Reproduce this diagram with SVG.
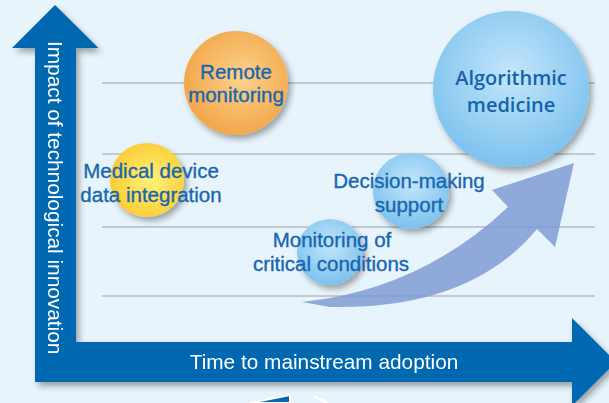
<svg xmlns="http://www.w3.org/2000/svg" width="609" height="403" viewBox="0 0 609 403">
<style>
.lbl{font-family:"Liberation Sans",Arial,sans-serif;font-size:20.5px;fill:#1766b0;stroke:#1766b0;stroke-width:0.35;text-anchor:middle}
.alg{font-family:"Open Sans","Noto Sans",sans-serif;font-weight:600;font-size:20px;stroke:none;fill:#1563aa}
.axis{font-family:"Liberation Sans",Arial,sans-serif;font-size:20.8px;fill:#ffffff}
.grid{stroke:#9a9fa6;stroke-width:1.2}
</style>
<defs>
<filter id="sh" x="-20%" y="-20%" width="150%" height="150%">
<feGaussianBlur in="SourceAlpha" stdDeviation="3"/>
<feOffset dx="3" dy="4" result="b"/>
<feComponentTransfer><feFuncA type="linear" slope="0.35"/></feComponentTransfer>
<feMerge><feMergeNode/><feMergeNode in="SourceGraphic"/></feMerge>
</filter>
<radialGradient id="gOr" cx="0.55" cy="0.45" r="0.6">
<stop offset="0" stop-color="#fdd28c"/><stop offset="1" stop-color="#f1a445"/>
</radialGradient>
<radialGradient id="gYe" cx="0.55" cy="0.5" r="0.6">
<stop offset="0" stop-color="#fff27a"/><stop offset="1" stop-color="#fbc92c"/>
</radialGradient>
<radialGradient id="gBl" cx="0.5" cy="0.4" r="0.6">
<stop offset="0" stop-color="#c4e6fa"/><stop offset="1" stop-color="#7cc2ee"/>
</radialGradient>
</defs>
<rect width="609" height="403" fill="#e8f4fc"/>
<g id="grid">
<line class="grid" x1="102" y1="83" x2="595" y2="83"/>
<line class="grid" x1="102" y1="154" x2="595" y2="154"/>
<line class="grid" x1="102" y1="227" x2="595" y2="227"/>
<line class="grid" x1="102" y1="296" x2="595" y2="296"/>
</g>
<g id="bottom-marks">
<polygon points="250,403 290,395 290,403" fill="#0067b1" stroke="#ffffff" stroke-width="2"/>
<line x1="315" y1="397" x2="328" y2="403" stroke="#ffffff" stroke-width="2.5"/>
</g>
<g id="axes" filter="url(#sh)">
<path d="M55,5 L98.5,48 L76,48 L76,342 L572,342 L572,318 L616,362 L572,406 L572,382 L35,382 L35,48 L12,48 Z" fill="#0067b1"/>
<text class="axis" transform="translate(48,41) rotate(90)">Impact of technological innovation</text>
<text class="axis" x="324" y="369" text-anchor="middle">Time to mainstream adoption</text>
</g>
<g id="node-remote">
<circle cx="236" cy="83" r="52" fill="url(#gOr)" filter="url(#sh)"/>
<text class="lbl" x="236" y="79">Remote</text>
<text class="lbl" x="236" y="102">monitoring</text>
</g>
<g id="node-medical">
<circle cx="147" cy="180" r="37" fill="url(#gYe)" filter="url(#sh)"/>
<text class="lbl" x="151" y="178">Medical device</text>
<text class="lbl" x="151" y="202">data integration</text>
</g>
<g id="node-monitoring">
<circle cx="330" cy="252" r="33" fill="url(#gBl)" filter="url(#sh)"/>
<text class="lbl" x="332" y="247">Monitoring of</text>
<text class="lbl" x="331" y="271">critical conditions</text>
</g>
<g id="node-decision">
<circle cx="411" cy="191" r="38" fill="url(#gBl)" filter="url(#sh)"/>
<text class="lbl" x="409" y="188">Decision-making</text>
<text class="lbl" x="409" y="212">support</text>
</g>
<g id="node-algorithmic">
<circle cx="511" cy="89" r="78" fill="url(#gBl)" filter="url(#sh)"/>
<text class="lbl alg" x="511" y="85">Algorithmic</text>
<text class="lbl alg" x="511" y="112">medicine</text>
</g>
<g id="connectors">
<path d="M302,302 Q420,290 508,207 L492,190 L574,163 L555,247 L537,229 Q470,310 330,307 Z" fill="#7f9bd4" fill-opacity="0.85"/>
</g>
</svg>
